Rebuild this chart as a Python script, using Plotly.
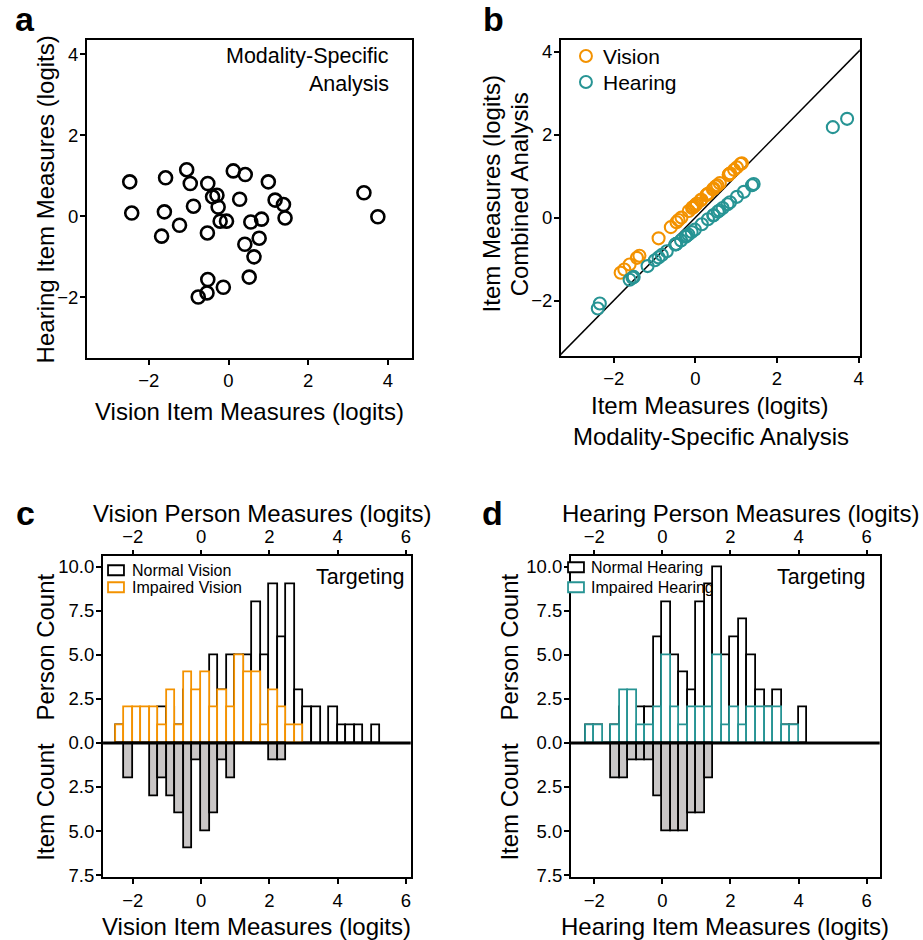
import plotly.graph_objects as go

W, H = 923, 940
# small empirical calibration so that page pixels line up with the reference picture
def fx(p): return (p + 3.5) / W
def fy(p): return 1 - (p * 1.009) / H

FONT = "Liberation Sans, Arial, sans-serif"
ORANGE = "#F39200"
TEAL = "#279494"
GREY = "#C9C6C6"

# ---------------- Panel a data (modality-specific item measures) ----------------
a_vision_item = [-2.48, -2.43, -1.58, -1.61, -1.68, -1.05, -0.96, -0.88, -1.23, -0.52, -0.40, -0.29,
                 -0.26, -0.21, -0.05, -0.53, 0.12, 0.42, 0.28, 0.56, 0.83, 1.00, 1.17, 1.38, 1.42,
                 0.77, 0.41, 0.64, 0.52, -0.52, -0.54, -0.76, -0.13, 3.40, 3.75]
a_hearing_item = [0.85, 0.08, 0.95, 0.11, -0.49, 1.15, 0.81, 0.25, -0.22, 0.81, 0.48, 0.52,
                  0.23, -0.12, -0.12, -0.41, 1.12, 1.03, 0.42, -0.14, -0.07, 0.85, 0.40, 0.29, -0.04,
                  -0.54, -0.69, -1.00, -1.50, -1.56, -1.89, -1.99, -1.75, 0.58, -0.01]

# ---------------- Panel b data (modality-specific vs combined) ----------------
b_vision_specific = [0.85, 0.13, 0.95, 0.15, -0.41, 1.14, 0.82, 0.29, -0.16, 0.82, 0.50, 0.54,
                     0.27, -0.06, -0.06, -0.34, 1.11, 1.02, 0.45, -0.08, -0.02, 0.85, 0.43, 0.32, 0.01,
                     -0.46, -0.60, -0.90, -1.37, -1.43, -1.74, -1.83, -1.61, 0.60, 0.04]
b_vision_combined = [1.06, 0.42, 1.15, 0.43, -0.06, 1.31, 1.03, 0.56, 0.16, 1.03, 0.75, 0.78,
                     0.54, 0.25, 0.25, 0.00, 1.29, 1.21, 0.70, 0.23, 0.28, 1.06, 0.68, 0.58, 0.31,
                     -0.11, -0.23, -0.50, -0.92, -0.97, -1.25, -1.33, -1.13, 0.83, 0.34]
b_hearing_specific = [-2.39, -2.34, -1.51, -1.54, -1.61, -0.99, -0.90, -0.82, -1.17, -0.47, -0.35, -0.24,
                      -0.21, -0.17, -0.01, -0.48, 0.16, 0.45, 0.31, 0.59, 0.85, 1.02, 1.19, 1.39, 1.43,
                      0.79, 0.44, 0.67, 0.55, -0.47, -0.49, -0.70, -0.09, 3.37, 3.72]
b_hearing_combined = [-2.19, -2.07, -1.43, -1.45, -1.50, -1.03, -0.96, -0.90, -1.17, -0.64, -0.55, -0.46,
                      -0.44, -0.41, -0.29, -0.64, -0.16, 0.06, -0.04, 0.17, 0.37, 0.50, 0.62, 0.78, 0.81,
                      0.32, 0.05, 0.23, 0.14, -0.64, -0.65, -0.81, -0.35, 2.18, 2.38]
identity_line = [-3.5, 4.5]

# ---------------- Panel c / d histogram data (bin width 0.25 logit) ----------------
bin_width = 0.25
c_start = -2.5
c_normal_vision = [1, 1, 1, 1, 1, 2, 2, 1, 3, 2, 3, 5, 3, 5, 5, 5, 8, 5, 9, 6, 9, 3, 2, 2, 0, 2, 1, 1, 1, 0, 1]
c_impaired_vision = [1, 2, 2, 2, 2, 1, 3, 1, 4, 3, 4, 2, 3, 2, 5, 4, 4, 1, 3, 2, 1, 1]
c_vision_items = [0, 2, 0, 0, 3, 2, 3, 4, 6, 1, 5, 4, 1, 2, 0, 0, 0, 0, 1, 1]

d_start = -2.25
d_normal_hearing = [1, 1, 0, 1, 2, 2, 2, 2, 6, 8, 5, 4, 3, 8, 9, 10, 5, 6, 7, 5, 3, 2, 3, 1, 1, 2]
d_impaired_hearing = [1, 1, 0, 1, 3, 3, 1, 1, 2, 5, 2, 1, 2, 2, 2, 5, 1, 2, 1, 2, 2, 2, 2, 1, 1]
d_hearing_item_start = -1.5
d_hearing_items = [2, 2, 1, 1, 1, 3, 5, 5, 5, 4, 4, 2]

logit_ticks = [-2, 0, 2, 4]
hist_ticks = [-2, 0, 2, 4, 6]
count_tickvals = [-7.5, -5, -2.5, 0, 2.5, 5, 7.5, 10]
count_ticktext = ["7.5", "5.0", "2.5", "0.0", "2.5", "5.0", "7.5", "10.0"]


def centers(start, counts):
    return [start + bin_width * (i + 0.5) for i in range(len(counts))]


fig = go.Figure()

# Panel a
fig.add_trace(go.Scatter(x=a_vision_item, y=a_hearing_item, mode="markers", xaxis="x", yaxis="y",
                         marker=dict(symbol="circle-open", size=13, color="black", line=dict(width=2.6, color="black")),
                         showlegend=False))

# Panel b
fig.add_trace(go.Scatter(x=identity_line, y=identity_line, mode="lines", xaxis="x2", yaxis="y2",
                         line=dict(color="black", width=1.5), showlegend=False))
fig.add_trace(go.Scatter(x=b_vision_specific, y=b_vision_combined, mode="markers", xaxis="x2", yaxis="y2",
                         name="Vision",
                         marker=dict(symbol="circle-open", size=12, color=ORANGE, line=dict(width=2.1, color=ORANGE)),
                         showlegend=False))
fig.add_trace(go.Scatter(x=b_hearing_specific, y=b_hearing_combined, mode="markers", xaxis="x2", yaxis="y2",
                         name="Hearing",
                         marker=dict(symbol="circle-open", size=12, color=TEAL, line=dict(width=2.1, color=TEAL)),
                         showlegend=False))

# Panel c
fig.add_trace(go.Bar(x=centers(c_start, c_normal_vision), y=c_normal_vision, width=bin_width,
                     xaxis="x3", yaxis="y3", marker=dict(color="white", line=dict(color="black", width=1.8)),
                     showlegend=False))
fig.add_trace(go.Bar(x=centers(c_start, c_impaired_vision), y=c_impaired_vision, width=bin_width,
                     xaxis="x3", yaxis="y3", marker=dict(color="white", line=dict(color=ORANGE, width=1.8)),
                     showlegend=False))
fig.add_trace(go.Bar(x=centers(c_start, c_vision_items), y=[-v for v in c_vision_items], width=bin_width,
                     xaxis="x3", yaxis="y3", marker=dict(color=GREY, line=dict(color="black", width=1.8)),
                     showlegend=False))
fig.add_trace(go.Scatter(x=[], y=[], xaxis="x5", yaxis="y3", showlegend=False))

# Panel d
fig.add_trace(go.Bar(x=centers(d_start, d_normal_hearing), y=d_normal_hearing, width=bin_width,
                     xaxis="x4", yaxis="y4", marker=dict(color="white", line=dict(color="black", width=1.8)),
                     showlegend=False))
fig.add_trace(go.Bar(x=centers(d_start, d_impaired_hearing), y=d_impaired_hearing, width=bin_width,
                     xaxis="x4", yaxis="y4", marker=dict(color="white", line=dict(color=TEAL, width=1.8)),
                     showlegend=False))
fig.add_trace(go.Bar(x=centers(d_hearing_item_start, d_hearing_items), y=[-v for v in d_hearing_items], width=bin_width,
                     xaxis="x4", yaxis="y4", marker=dict(color=GREY, line=dict(color="black", width=1.8)),
                     showlegend=False))
fig.add_trace(go.Scatter(x=[], y=[], xaxis="x6", yaxis="y4", showlegend=False))

axis_common = dict(showline=True, linecolor="black", linewidth=2.2, mirror=True, ticks="outside",
                   ticklen=5, tickwidth=2, tickcolor="black", showgrid=False, zeroline=False,
                   tickfont=dict(family=FONT, size=18.5, color="black"))
yaxis_extra = dict(ticklabelstandoff=-2)
top_axis = dict(showline=False, ticks="outside", ticklen=5, tickwidth=2, tickcolor="black", showgrid=False,
                zeroline=False, tickfont=dict(family=FONT, size=18.5, color="black"))

fig.update_layout(
    width=W, height=H, margin=dict(l=0, r=0, t=0, b=0), autosize=False,
    paper_bgcolor="white", plot_bgcolor="white",
    barmode="overlay", bargap=0,
    font=dict(family=FONT, color="black"),
    xaxis=dict(domain=[fx(84), fx(410)], range=[-3.55, 4.6], tickvals=logit_ticks, anchor="y", **axis_common),
    yaxis=dict(domain=[fy(358), fy(40)], range=[-3.5, 4.35], tickvals=logit_ticks, anchor="x",
               **axis_common, **yaxis_extra),
    xaxis2=dict(domain=[fx(560), fx(860)], range=[-3.29, 4.03], tickvals=logit_ticks, anchor="y2", **axis_common),
    yaxis2=dict(domain=[fy(356), fy(40)], range=[-3.34, 4.28], tickvals=logit_ticks, anchor="x2",
                **axis_common, **yaxis_extra),
    xaxis3=dict(domain=[fx(100), fx(409)], range=[-2.87, 6.14], tickvals=hist_ticks, anchor="y3", **axis_common),
    yaxis3=dict(domain=[fy(877), fy(556)], range=[-7.63, 10.6], tickvals=count_tickvals, ticktext=count_ticktext,
                anchor="x3", **axis_common, **yaxis_extra),
    xaxis5=dict(overlaying="x3", side="top", anchor="y3", range=[-2.87, 6.14], tickvals=hist_ticks, **top_axis),
    xaxis4=dict(domain=[fx(570), fx(880)], range=[-2.68, 6.38], tickvals=hist_ticks, anchor="y4", **axis_common),
    yaxis4=dict(domain=[fy(877), fy(556)], range=[-7.63, 10.6], tickvals=count_tickvals, ticktext=count_ticktext,
                anchor="x4", **axis_common, **yaxis_extra),
    xaxis6=dict(overlaying="x4", side="top", anchor="y4", range=[-2.68, 6.38], tickvals=hist_ticks, **top_axis),
)

shapes = []
# zero lines in c and d
for xa, ya in (("x3", "y3"), ("x4", "y4")):
    shapes.append(dict(type="line", xref=f"{xa} domain", yref=ya, x0=0, x1=1, y0=0, y1=0,
                       line=dict(color="black", width=3), layer="above"))
# legend symbols b
shapes.append(dict(type="circle", xref="paper", yref="paper", x0=fx(579), x1=fx(591), y0=fy(62), y1=fy(50),
                   line=dict(color=ORANGE, width=2)))
shapes.append(dict(type="circle", xref="paper", yref="paper", x0=fx(579), x1=fx(591), y0=fy(88), y1=fy(76),
                   line=dict(color=TEAL, width=2)))
# legend symbols c
shapes.append(dict(type="rect", xref="paper", yref="paper", x0=fx(105), x1=fx(121), y0=fy(575), y1=fy(565),
                   line=dict(color="black", width=1.8), fillcolor="white"))
shapes.append(dict(type="rect", xref="paper", yref="paper", x0=fx(105), x1=fx(121), y0=fy(592), y1=fy(582),
                   line=dict(color=ORANGE, width=1.8), fillcolor="white"))
# legend symbols d
shapes.append(dict(type="rect", xref="paper", yref="paper", x0=fx(567), x1=fx(583), y0=fy(572), y1=fy(562),
                   line=dict(color="black", width=1.8), fillcolor="white"))
shapes.append(dict(type="rect", xref="paper", yref="paper", x0=fx(567), x1=fx(583), y0=fy(592), y1=fy(582),
                   line=dict(color=TEAL, width=1.8), fillcolor="white"))
fig.update_layout(shapes=shapes)


def ann(text, x, y, size, xanchor="center", angle=0, bold=False):
    t = f"<b>{text}</b>" if bold else text
    return dict(text=t, x=fx(x), y=fy(y), xref="paper", yref="paper", showarrow=False,
                xanchor=xanchor, yanchor="middle", textangle=angle,
                font=dict(family=FONT, size=size, color="black"))


annotations = [
    ann("a", 22, 19, 34, bold=True),
    ann("b", 492, 19, 34, bold=True),
    ann("c", 22, 513, 34, bold=True),
    ann("d", 491, 513, 34, bold=True),
    # panel a
    ann("Modality-Specific", 389, 56, 21.5, xanchor="right"),
    ann("Analysis", 389, 84, 21.5, xanchor="right"),
    ann("Vision Item Measures (logits)", 247, 411, 24),
    ann("Hearing Item Measures (logits)", 42, 199, 24, angle=-90),
    # panel b
    ann("Vision", 600, 56, 21, xanchor="left"),
    ann("Hearing", 600, 82, 21, xanchor="left"),
    ann("Item Measures (logits)", 709, 405, 24),
    ann("Modality-Specific Analysis", 711, 436, 24),
    ann("Item Measures (logits)", 490, 194, 24, angle=-90),
    ann("Combined Analysis", 518, 194, 24, angle=-90),
    # panel c
    ann("Vision Person Measures (logits)", 260, 513, 24),
    ann("Vision Item Measures (logits)", 254, 926, 24),
    ann("Person Count", 42, 647, 24, angle=-90),
    ann("Item Count", 42, 801, 24, angle=-90),
    ann("Targeting", 404, 577, 21.5, xanchor="right"),
    ann("Normal Vision", 127, 570, 16, xanchor="left"),
    ann("Impaired Vision", 127, 587, 16, xanchor="left"),
    # panel d
    ann("Hearing Person Measures (logits)", 740, 513, 24),
    ann("Hearing Item Measures (logits)", 725, 926, 24),
    ann("Person Count", 508, 647, 24, angle=-90),
    ann("Item Count", 508, 801, 24, angle=-90),
    ann("Targeting", 867, 577, 21.5, xanchor="right"),
    ann("Normal Hearing", 588, 567, 16, xanchor="left"),
    ann("Impaired Hearing", 588, 587, 16, xanchor="left"),
]
fig.update_layout(annotations=annotations)

fig.write_html("out.html",
               config={"displayModeBar": False, "responsive": False},
               post_script="document.body.style.margin='0';document.body.style.padding='0';"
                           "document.body.style.overflow='hidden';"
                           "document.documentElement.style.overflow='hidden';")
